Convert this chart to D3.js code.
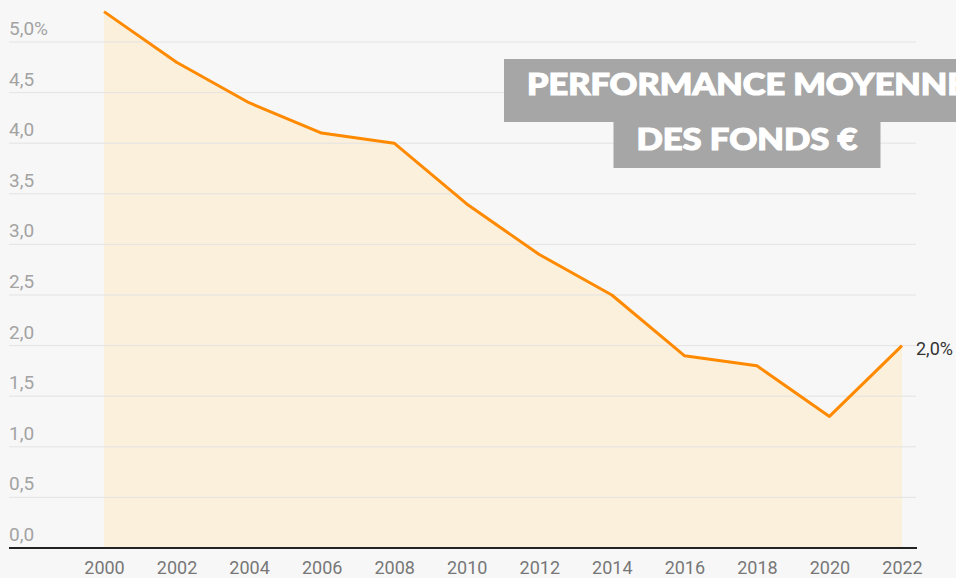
<!DOCTYPE html>
<html>
<head>
<meta charset="utf-8">
<script src="https://cdn.jsdelivr.net/npm/d3@7"></script>
<style>
  html, body { margin: 0; padding: 0; background: #f7f7f7; }
  svg { display: block; font-family: Roboto, "Noto Sans", sans-serif; }
</style>
</head>
<body>
<div id="chart"></div>
<script>
// performance moyenne des fonds euros, %
const years = [2000, 2002, 2004, 2006, 2008, 2010, 2012, 2014, 2016, 2018, 2020, 2022];
const perf = [5.3, 4.8, 4.4, 4.1, 4.0, 3.4, 2.9, 2.5, 1.9, 1.8, 1.3, 2.0];
const yTicks = [0, 0.5, 1, 1.5, 2, 2.5, 3, 3.5, 4, 4.5, 5];
const titleLines = ['PERFORMANCE MOYENNE', 'DES FONDS €'];

const width = 956, height = 578;

const x = d3.scaleLinear().domain([2000, 2022]).range([104, 902]);
const y = d3.scaleLinear().domain([0, 5]).range([548, 42]);

const svg = d3.select('#chart')
  .append('svg')
  .attr('width', width)
  .attr('height', height);

svg.append('rect')
  .attr('width', width)
  .attr('height', height)
  .attr('fill', '#f7f7f7');

const data = years.map((yr, i) => ({year: yr, value: perf[i]}));

// area
const area = d3.area()
  .x(d => x(d.year))
  .y0(y(0))
  .y1(d => y(d.value));

svg.append('path')
  .datum(data)
  .attr('d', area)
  .attr('fill', '#faf0dc');

// gridlines + y labels
const grid = svg.append('g');
grid.selectAll('line')
  .data(yTicks.filter(t => t > 0))
  .enter()
  .append('line')
  .attr('x1', 9)
  .attr('x2', 916)
  .attr('y1', d => y(d))
  .attr('y2', d => y(d))
  .attr('stroke', '#e3e3e3')
  .attr('stroke-width', 1);

grid.selectAll('text')
  .data(yTicks)
  .enter()
  .append('text')
  .attr('x', 9)
  .attr('y', d => y(d) - 7)
  .attr('fill', '#a3a3a3')
  .attr('font-size', 19)
  .text(d => d3.format('.1f')(d).replace('.', ',') + (d === 5 ? '%' : ''));

// line
const line = d3.line()
  .x(d => x(d.year))
  .y(d => y(d.value));

svg.append('path')
  .datum(data)
  .attr('d', line)
  .attr('fill', 'none')
  .attr('stroke', '#ff8a00')
  .attr('stroke-width', 3)
  .attr('stroke-linejoin', 'round');

// x axis
const xAxis = d3.axisBottom(x)
  .tickValues(years)
  .tickFormat(d3.format('d'))
  .tickSize(0)
  .tickPadding(13);

const gx = svg.append('g')
  .attr('transform', `translate(0,${y(0)})`)
  .call(xAxis);
gx.select('.domain').remove();
gx.selectAll('text')
  .attr('font-size', 18)
  .attr('fill', '#777')
  .attr('font-family', 'Roboto, sans-serif');

svg.append('line')
  .attr('x1', 9)
  .attr('x2', 917)
  .attr('y1', y(0))
  .attr('y2', y(0))
  .attr('stroke', '#222')
  .attr('stroke-width', 2);

// last value label
const last = data[data.length - 1];
svg.append('text')
  .attr('x', x(last.year) + 14)
  .attr('y', y(last.value) + 9)
  .attr('fill', '#333')
  .attr('font-size', 18)
  .text(d3.format('.1f')(last.value).replace('.', ',') + '%');

// title
const title = svg.append('g');
const cx = 747;
const baselines = [95, 150];
const lens = [440, 221];
const boxes = [[59, 122], [122, 168]];
titleLines.forEach((t, i) => {
  const half = lens[i] / 2 + 23;
  title.append('rect')
    .attr('x', cx - half)
    .attr('y', boxes[i][0])
    .attr('width', half * 2)
    .attr('height', boxes[i][1] - boxes[i][0])
    .attr('fill', '#a6a6a6');
});
titleLines.forEach((t, i) => {
  title.append('text')
    .attr('x', cx)
    .attr('y', baselines[i])
    .attr('text-anchor', 'middle')
    .attr('fill', '#fff')
    .attr('stroke', '#fff')
    .attr('stroke-width', 1.2)
    .attr('font-family', 'Lato, "DejaVu Sans", sans-serif')
    .attr('font-weight', 900)
    .attr('font-size', 30)
    .attr('textLength', lens[i])
    .attr('lengthAdjust', 'spacingAndGlyphs')
    .text(t);
});
</script>
</body>
</html>
